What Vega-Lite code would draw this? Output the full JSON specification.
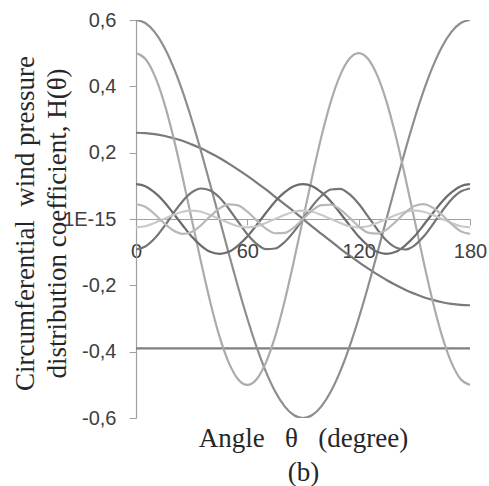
{
  "$schema": "https://vega.github.io/schema/vega-lite/v6.json",
  "width": 334,
  "height": 398,
  "autosize": {"type": "none"},
  "padding": {"left": 136, "top": 20, "right": 19, "bottom": 68},
  "background": "white",
  "config": {"view": {"stroke": null}},
  "data": {"values": [
    {"angle": 0, "h0": -0.39, "h1": 0.26, "h2": 0.6, "h3": 0.5, "h4": 0.105, "h5": -0.092, "h6": -0.025, "h7": 0.045},
    {"angle": 5, "h0": -0.39, "h1": 0.259, "h2": 0.591, "h3": 0.483, "h4": 0.099, "h5": -0.083, "h6": -0.022, "h7": 0.037},
    {"angle": 10, "h0": -0.39, "h1": 0.256, "h2": 0.564, "h3": 0.433, "h4": 0.08, "h5": -0.059, "h6": -0.012, "h7": 0.015},
    {"angle": 15, "h0": -0.39, "h1": 0.251, "h2": 0.52, "h3": 0.354, "h4": 0.053, "h5": -0.024, "h6": 0, "h7": -0.012},
    {"angle": 20, "h0": -0.39, "h1": 0.244, "h2": 0.46, "h3": 0.25, "h4": 0.018, "h5": 0.016, "h6": 0.012, "h7": -0.034},
    {"angle": 25, "h0": -0.39, "h1": 0.236, "h2": 0.386, "h3": 0.129, "h4": -0.018, "h5": 0.053, "h6": 0.022, "h7": -0.045},
    {"angle": 30, "h0": -0.39, "h1": 0.225, "h2": 0.3, "h3": 0, "h4": -0.053, "h5": 0.08, "h6": 0.025, "h7": -0.039},
    {"angle": 35, "h0": -0.39, "h1": 0.213, "h2": 0.205, "h3": -0.129, "h4": -0.08, "h5": 0.092, "h6": 0.022, "h7": -0.019},
    {"angle": 40, "h0": -0.39, "h1": 0.199, "h2": 0.104, "h3": -0.25, "h4": -0.099, "h5": 0.086, "h6": 0.012, "h7": 0.008},
    {"angle": 45, "h0": -0.39, "h1": 0.184, "h2": 0, "h3": -0.354, "h4": -0.105, "h5": 0.065, "h6": 0, "h7": 0.032},
    {"angle": 50, "h0": -0.39, "h1": 0.167, "h2": -0.104, "h3": -0.433, "h4": -0.099, "h5": 0.031, "h6": -0.012, "h7": 0.044},
    {"angle": 55, "h0": -0.39, "h1": 0.149, "h2": -0.205, "h3": -0.483, "h4": -0.08, "h5": -0.008, "h6": -0.022, "h7": 0.041},
    {"angle": 60, "h0": -0.39, "h1": 0.13, "h2": -0.3, "h3": -0.5, "h4": -0.053, "h5": -0.046, "h6": -0.025, "h7": 0.022},
    {"angle": 65, "h0": -0.39, "h1": 0.11, "h2": -0.386, "h3": -0.483, "h4": -0.018, "h5": -0.075, "h6": -0.022, "h7": -0.004},
    {"angle": 70, "h0": -0.39, "h1": 0.089, "h2": -0.46, "h3": -0.433, "h4": 0.018, "h5": -0.091, "h6": -0.012, "h7": -0.029},
    {"angle": 75, "h0": -0.39, "h1": 0.067, "h2": -0.52, "h3": -0.354, "h4": 0.053, "h5": -0.089, "h6": 0, "h7": -0.043},
    {"angle": 80, "h0": -0.39, "h1": 0.045, "h2": -0.564, "h3": -0.25, "h4": 0.08, "h5": -0.07, "h6": 0.012, "h7": -0.042},
    {"angle": 85, "h0": -0.39, "h1": 0.023, "h2": -0.591, "h3": -0.129, "h4": 0.099, "h5": -0.039, "h6": 0.022, "h7": -0.026},
    {"angle": 90, "h0": -0.39, "h1": 0, "h2": -0.6, "h3": 0, "h4": 0.105, "h5": 0, "h6": 0.025, "h7": 0},
    {"angle": 95, "h0": -0.39, "h1": -0.023, "h2": -0.591, "h3": 0.129, "h4": 0.099, "h5": 0.039, "h6": 0.022, "h7": 0.026},
    {"angle": 100, "h0": -0.39, "h1": -0.045, "h2": -0.564, "h3": 0.25, "h4": 0.08, "h5": 0.07, "h6": 0.012, "h7": 0.042},
    {"angle": 105, "h0": -0.39, "h1": -0.067, "h2": -0.52, "h3": 0.354, "h4": 0.053, "h5": 0.089, "h6": 0, "h7": 0.043},
    {"angle": 110, "h0": -0.39, "h1": -0.089, "h2": -0.46, "h3": 0.433, "h4": 0.018, "h5": 0.091, "h6": -0.012, "h7": 0.029},
    {"angle": 115, "h0": -0.39, "h1": -0.11, "h2": -0.386, "h3": 0.483, "h4": -0.018, "h5": 0.075, "h6": -0.022, "h7": 0.004},
    {"angle": 120, "h0": -0.39, "h1": -0.13, "h2": -0.3, "h3": 0.5, "h4": -0.053, "h5": 0.046, "h6": -0.025, "h7": -0.022},
    {"angle": 125, "h0": -0.39, "h1": -0.149, "h2": -0.205, "h3": 0.483, "h4": -0.08, "h5": 0.008, "h6": -0.022, "h7": -0.041},
    {"angle": 130, "h0": -0.39, "h1": -0.167, "h2": -0.104, "h3": 0.433, "h4": -0.099, "h5": -0.031, "h6": -0.012, "h7": -0.044},
    {"angle": 135, "h0": -0.39, "h1": -0.184, "h2": 0, "h3": 0.354, "h4": -0.105, "h5": -0.065, "h6": 0, "h7": -0.032},
    {"angle": 140, "h0": -0.39, "h1": -0.199, "h2": 0.104, "h3": 0.25, "h4": -0.099, "h5": -0.086, "h6": 0.012, "h7": -0.008},
    {"angle": 145, "h0": -0.39, "h1": -0.213, "h2": 0.205, "h3": 0.129, "h4": -0.08, "h5": -0.092, "h6": 0.022, "h7": 0.019},
    {"angle": 150, "h0": -0.39, "h1": -0.225, "h2": 0.3, "h3": 0, "h4": -0.053, "h5": -0.08, "h6": 0.025, "h7": 0.039},
    {"angle": 155, "h0": -0.39, "h1": -0.236, "h2": 0.386, "h3": -0.129, "h4": -0.018, "h5": -0.053, "h6": 0.022, "h7": 0.045},
    {"angle": 160, "h0": -0.39, "h1": -0.244, "h2": 0.46, "h3": -0.25, "h4": 0.018, "h5": -0.016, "h6": 0.012, "h7": 0.034},
    {"angle": 165, "h0": -0.39, "h1": -0.251, "h2": 0.52, "h3": -0.354, "h4": 0.053, "h5": 0.024, "h6": 0, "h7": 0.012},
    {"angle": 170, "h0": -0.39, "h1": -0.256, "h2": 0.564, "h3": -0.433, "h4": 0.08, "h5": 0.059, "h6": -0.012, "h7": -0.015},
    {"angle": 175, "h0": -0.39, "h1": -0.259, "h2": 0.591, "h3": -0.483, "h4": 0.099, "h5": 0.083, "h6": -0.022, "h7": -0.037},
    {"angle": 180, "h0": -0.39, "h1": -0.26, "h2": 0.6, "h3": -0.5, "h4": 0.105, "h5": 0.092, "h6": -0.025, "h7": -0.045}
  ]},
  "transform": [{"fold": ["h0", "h1", "h2", "h3", "h4", "h5", "h6", "h7"], "as": ["series", "value"]}],
  "mark": {"type": "line", "strokeWidth": 2.2, "interpolate": "monotone", "clip": true},
  "encoding": {
    "x": {
      "field": "angle", "type": "quantitative",
      "scale": {"domain": [0, 180], "nice": false},
      "axis": {
        "values": [0, 60, 120, 180], "offset": -199, "grid": false,
        "domainColor": "#a0a0a0", "domainWidth": 1.2, "tickColor": "#a0a0a0", "tickSize": 6,
        "labelFont": "Liberation Sans", "labelFontSize": 20, "labelColor": "#404040", "labelPadding": 16, "labelFlush": false,
        "title": ["Angle\u00a0\u00a0\u00a0θ\u00a0\u00a0\u00a0(degree)", "(b)"],
        "titleFont": "Liberation Serif", "titleFontSize": 27, "titleFontWeight": "normal", "titleColor": "#262626",
        "titleX": 167, "titleY": 227, "titleAlign": "center", "titleBaseline": "alphabetic", "titleLineHeight": 34
      }
    },
    "y": {
      "field": "value", "type": "quantitative",
      "scale": {"domain": [-0.6, 0.6], "nice": false},
      "axis": {
        "values": [-0.6, -0.4, -0.2, 0, 0.2, 0.4, 0.6], "grid": false,
        "labelExpr": "datum.value == 0 ? '1E-15' : replace(toString(datum.value), '.', ',')",
        "domainColor": "#a0a0a0", "domainWidth": 1.2, "tickColor": "#a0a0a0", "tickSize": 7,
        "labelFont": "Liberation Sans", "labelFontSize": 20, "labelColor": "#404040", "labelPadding": 13,
        "title": ["Circumferential\u00a0\u00a0wind pressure", "distribution coefficient, H(θ)"],
        "titleFont": "Liberation Serif", "titleFontSize": 27, "titleFontWeight": "normal", "titleColor": "#262626",
        "titleAngle": -90, "titleX": -124, "titleY": 203, "titleAlign": "center", "titleBaseline": "top", "titleLineHeight": 32
      }
    },
    "color": {
      "field": "series", "type": "nominal", "legend": null,
      "scale": {
        "domain": ["h0", "h1", "h2", "h3", "h4", "h5", "h6", "h7"],
        "range": ["#7f7f7f", "#7a7a7a", "#8e8e8e", "#ababab", "#6b6b6b", "#757575", "#c9c9c9", "#b8b8b8"]
      }
    }
  }
}
